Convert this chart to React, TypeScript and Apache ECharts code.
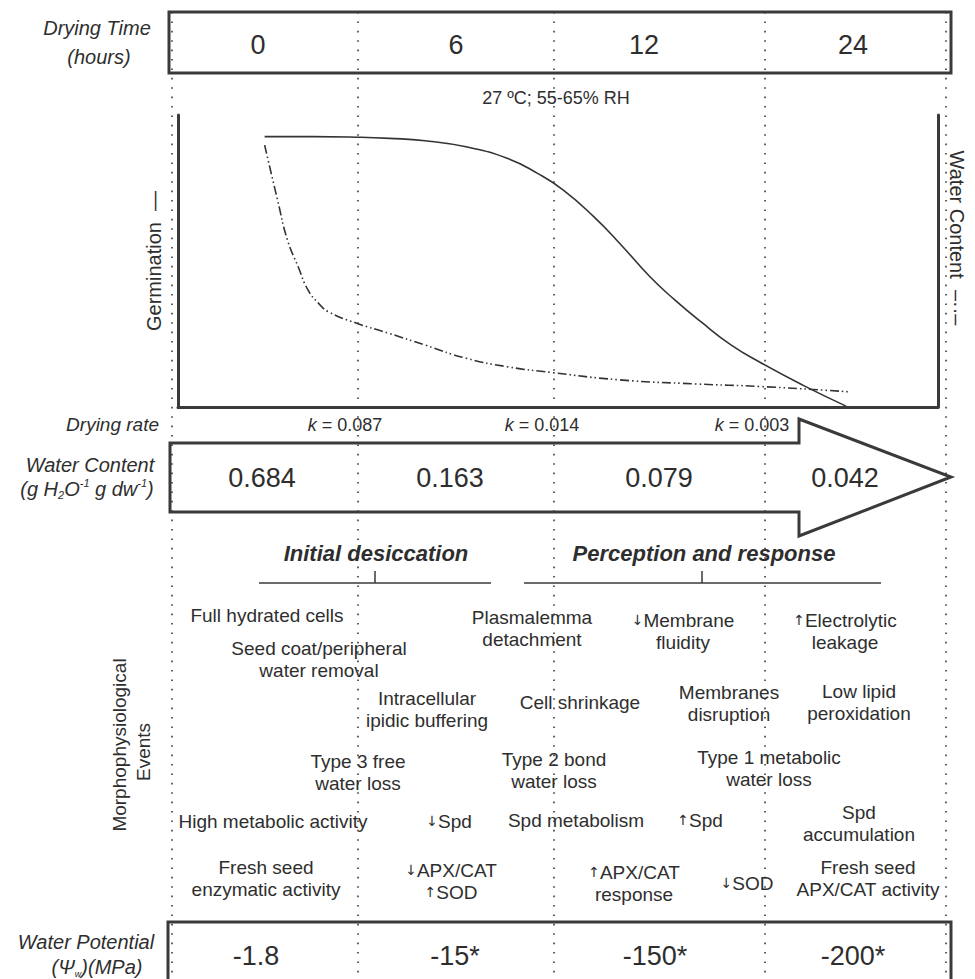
import React, { useEffect, useRef } from "react";
import * as echarts from "echarts";

// ---------- data ----------
const dryingTimes = ["0", "6", "12", "24"];
const dryingRates = ["0.087", "0.014", "0.003"];
const waterContents = ["0.684", "0.163", "0.079", "0.042"];
const waterPotentials = ["-1.8", "-15*", "-150*", "-200*"];
const phases = ["Initial desiccation", "Perception and response"];

// Germination (solid) curve, relative units 0-100
const germX = [11.4, 17.8, 23.5, 27.8, 32.5, 37.9, 43.3, 47.3, 50.7, 54.7, 58.1, 62.1, 65.4, 68.8, 72.8, 76.8, 82.2, 87.9];
const germY = [92.6, 92.6, 92.4, 92.0, 91.2, 89.1, 85.2, 80.0, 74.3, 65.2, 56.1, 44.6, 36.6, 29.2, 21.2, 15.0, 7.5, 0.3];
// Water content (dash-dot-dot) curve, relative units 0-100
const wcX = [11.4, 13.1, 14.4, 15.8, 17.1, 18.5, 19.8, 23.5, 27.8, 32.5, 37.9, 43.3, 49.2, 58.1, 68.1, 76.8, 88.3];
const wcY = [89.7, 70.9, 57.2, 48.1, 40.1, 35.5, 32.6, 28.7, 25.2, 21.2, 16.7, 13.8, 11.8, 9.3, 7.9, 7.0, 5.2];

const events = [
  ["Full hydrated cells"],
  ["Seed coat/peripheral", "water removal"],
  ["Plasmalemma", "detachment"],
  ["{ar|\u2193}Membrane", "fluidity"],
  ["{ar|\u2191}Electrolytic", "leakage"],
  ["Intracellular", "ipidic buffering"],
  ["Cell shrinkage"],
  ["Membranes", "disruption"],
  ["Low lipid", "peroxidation"],
  ["Type 3 free", "water loss"],
  ["Type 2 bond", "water loss"],
  ["Type 1 metabolic", "water loss"],
  ["High metabolic activity"],
  ["{ar|\u2193}Spd"],
  ["Spd metabolism"],
  ["{ar|\u2191}Spd"],
  ["Spd", "accumulation"],
  ["Fresh seed", "enzymatic activity"],
  ["{ar|\u2193}APX/CAT", "{ar|\u2191}SOD"],
  ["{ar|\u2191}APX/CAT", "response"],
  ["{ar|\u2193}SOD"],
  ["Fresh seed", "APX/CAT activity"],
];

// ---------- layout ----------
const eventPos: [number, number][] = [
  [267, 615], [319, 659], [532, 628], [683, 631], [845, 631],
  [427, 709], [580, 702], [729, 703], [859, 702],
  [358, 772], [554, 770], [769, 768],
  [273, 821], [449, 821], [576, 820], [700, 820], [859, 823],
  [266, 878], [451, 881], [634, 883], [747, 883], [868, 878],
];
const timeX = [258, 456, 644, 853];
const rateX = [345, 542, 752];
const wcXPos = [262, 450, 659, 845];
const wpX = [256, 455, 655, 853];
const dottedX = [172, 358, 554, 765, 946];

const FONT = '"Liberation Sans", Arial, Helvetica, sans-serif';
const ARROW_FONT = '"DejaVu Sans", sans-serif';
const INK = "#2e2e2e";
const FRAME = "#3a3a3a";

function txt(x: number, y: number, text: string, size: number, extra: any = {}) {
  return {
    type: "text",
    x,
    y,
    z: 10,
    rotation: extra.rotation || 0,
    style: {
      text,
      fill: INK,
      fontFamily: FONT,
      fontSize: size,
      fontStyle: extra.italic ? "italic" : "normal",
      fontWeight: extra.bold ? "bold" : "normal",
      lineHeight: extra.lineHeight || Math.round(size * 1.15),
      align: extra.align || "center",
      verticalAlign: "middle",
      textAlign: extra.align || "center",
      textVerticalAlign: "middle",
      rich: extra.rich,
    },
  };
}

function line(x1: number, y1: number, x2: number, y2: number, w = 1.5, dash?: number[]) {
  return {
    type: "line",
    z: 5,
    shape: { x1, y1, x2, y2 },
    style: { stroke: FRAME, lineWidth: w, lineDash: dash },
  };
}

export default function App() {
  const ref = useRef<HTMLDivElement>(null);

  useEffect(() => {
    if (!ref.current) return;
    const chart = echarts.init(ref.current, null, { renderer: "svg" });

    const graphic: any[] = [];

    // dotted guide lines
    dottedX.forEach((x) => graphic.push(line(x, 12, x, 979, 1.6, [1.6, 7.8])));

    // top box
    graphic.push({
      type: "rect",
      z: 6,
      shape: { x: 169, y: 12, width: 782, height: 61 },
      style: { fill: "none", stroke: FRAME, lineWidth: 3 },
    });
    dryingTimes.forEach((t, i) => graphic.push(txt(timeX[i], 45, t, 27)));
    graphic.push(txt(97, 28, "Drying Time", 20, { italic: true }));
    graphic.push(txt(99, 57, "(hours)", 20, { italic: true }));
    graphic.push(txt(556, 98, "27 \u00baC; 55-65% RH", 18));

    // right axis label
    graphic.push(txt(957, 238, "Water Content  \u2013\u00b7\u00b7\u2013", 20, { rotation: -Math.PI / 2 }));

    // drying rate row
    graphic.push(txt(159, 424, "Drying rate", 19, { italic: true, align: "right" }));
    dryingRates.forEach((r, i) =>
      graphic.push(
        txt(rateX[i], 425, "{k|k} = " + r, 18, {
          rich: { k: { fontStyle: "italic", fontSize: 18, fontFamily: FONT, fill: INK } },
        })
      )
    );

    // arrow
    graphic.push({
      type: "polygon",
      z: 6,
      shape: {
        points: [
          [170, 443], [799, 443], [799, 419], [951, 477],
          [799, 536], [799, 512], [170, 512],
        ],
      },
      style: { fill: "none", stroke: FRAME, lineWidth: 3, lineJoin: "miter" },
    });
    waterContents.forEach((w, i) => graphic.push(txt(wcXPos[i], 478, w, 27)));
    graphic.push(txt(90, 465, "Water Content", 20, { italic: true }));
    graphic.push(
      txt(87, 489, "(g H{s|2}O{p|-1} g dw{p|-1})", 20, {
        italic: true,
        rich: {
          s: { fontSize: 11, fontStyle: "italic", fontFamily: FONT, fill: INK, verticalAlign: "bottom", padding: [8, 0, 0, 0] },
          p: { fontSize: 11, fontStyle: "italic", fontFamily: FONT, fill: INK, verticalAlign: "top", padding: [0, 0, 8, 0] },
        },
      })
    );

    // phases
    graphic.push(txt(376, 553, phases[0], 22, { italic: true, bold: true }));
    graphic.push(txt(704, 553, phases[1], 22, { italic: true, bold: true }));
    graphic.push(line(259, 583, 491, 583, 1.5));
    graphic.push(line(375, 571, 375, 583, 1.5));
    graphic.push(line(524, 583, 881, 583, 1.5));
    graphic.push(line(702, 571, 702, 583, 1.5));

    // events
    const arrowRich = {
      ar: { fontFamily: ARROW_FONT, fontSize: 14, fill: INK },
    };
    events.forEach((ev, i) =>
      graphic.push(
        txt(eventPos[i][0], eventPos[i][1], ev.join("\n"), 19, { lineHeight: 22, rich: arrowRich })
      )
    );
    graphic.push(txt(119, 745, "Morphophysiological", 19, { rotation: Math.PI / 2 }));
    graphic.push(txt(143, 752, "Events", 19, { rotation: Math.PI / 2 }));

    // bottom box
    graphic.push({
      type: "rect",
      z: 6,
      shape: { x: 168, y: 922, width: 783, height: 80 },
      style: { fill: "none", stroke: FRAME, lineWidth: 3 },
    });
    waterPotentials.forEach((w, i) => graphic.push(txt(wpX[i], 956, w, 27)));
    graphic.push(txt(86, 942, "Water Potential", 20, { italic: true }));
    graphic.push(
      txt(97, 967, "(\u03a8{s|w})(MPa)", 20, {
        italic: true,
        rich: {
          s: { fontSize: 9, fontStyle: "italic", fontFamily: FONT, fill: INK, verticalAlign: "bottom", padding: [9, 0, 0, 0] },
        },
      })
    );

    const option: any = {
      animation: false,
      backgroundColor: "#ffffff",
      textStyle: { fontFamily: FONT, color: INK },
      grid: { left: 178, top: 115, width: 760, height: 292, containLabel: false },
      xAxis: {
        type: "value",
        min: 0,
        max: 100,
        axisLine: { show: true, onZero: false, lineStyle: { color: FRAME, width: 3 } },
        axisTick: { show: false },
        axisLabel: { show: false },
        splitLine: { show: false },
      },
      yAxis: [
        {
          type: "value",
          min: 0,
          max: 100,
          position: "left",
          name: "Germination  \u2014",
          nameLocation: "middle",
          nameRotate: 90,
          nameGap: 14,
          nameTextStyle: { fontFamily: FONT, fontSize: 20, color: INK },
          axisLine: { show: true, lineStyle: { color: FRAME, width: 3 } },
          axisTick: { show: false },
          axisLabel: { show: false },
          splitLine: { show: false },
        },
        {
          type: "value",
          min: 0,
          max: 100,
          position: "right",
          axisLine: { show: true, lineStyle: { color: FRAME, width: 3 } },
          axisTick: { show: false },
          axisLabel: { show: false },
          splitLine: { show: false },
        },
      ],
      series: [
        {
          type: "line",
          name: "Germination",
          data: germX.map((x, i) => [x, germY[i]]),
          smooth: 0.5,
          symbol: "none",
          clip: false,
          lineStyle: { color: "#333", width: 1.6, type: "solid" },
          z: 3,
        },
        {
          type: "line",
          name: "Water Content",
          data: wcX.map((x, i) => [x, wcY[i]]),
          smooth: 0.5,
          symbol: "none",
          clip: false,
          lineStyle: { color: "#333", width: 1.6, type: [9, 3, 1.5, 3, 1.5, 3] },
          z: 3,
        },
      ],
      graphic,
    };

    chart.setOption(option);
    return () => chart.dispose();
  }, []);

  return (
    <div
      ref={ref}
      style={{ position: "absolute", left: 0, top: 0, width: 975, height: 979, background: "#fff" }}
    />
  );
}
